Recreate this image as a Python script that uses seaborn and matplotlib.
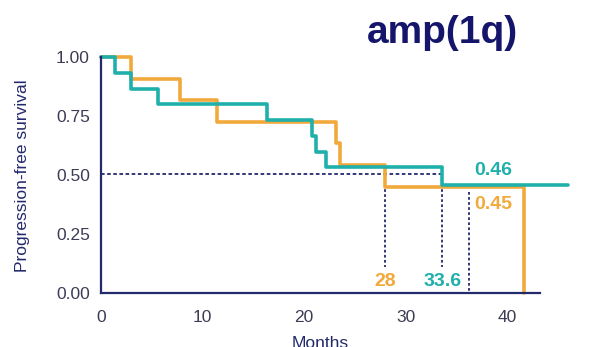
import matplotlib
matplotlib.use("Agg")
import matplotlib.pyplot as plt
import seaborn as sns
import pandas as pd

# Kaplan-Meier step points (month of event, survival after event)
orange_months = [0, 3.0, 7.8, 11.4, 23.1, 23.5, 28.0, 41.7]
orange_surv = [1.0, 0.909, 0.818, 0.727, 0.636, 0.545, 0.45, 0.0]
teal_months = [0, 1.4, 3.0, 5.6, 16.3, 20.8, 21.2, 22.2, 33.6, 46.0]
teal_surv = [1.0, 0.933, 0.867, 0.80, 0.733, 0.667, 0.60, 0.533, 0.46, 0.46]

median_orange = 28
median_teal = 33.6
final_orange = 0.45
final_teal = 0.46

x_ticks = [0, 10, 20, 30, 40]
y_ticks = [0.00, 0.25, 0.50, 0.75, 1.00]

ORANGE = "#f2a93b"
TEAL = "#1fb0ab"
NAVY = "#232a6c"
TICK_TXT = "#3c3c55"
TITLE = "#15156b"

df = pd.concat([
    pd.DataFrame({"month": orange_months, "survival": orange_surv, "group": "A"}),
    pd.DataFrame({"month": teal_months, "survival": teal_surv, "group": "B"}),
], ignore_index=True)

sns.set_theme(style="white")
plt.rcParams["font.family"] = ["Liberation Sans", "DejaVu Sans"]

fig = plt.figure(figsize=(5.89, 3.47), dpi=100)
ax = fig.add_axes([0.1715, 0.1548, 0.793, 0.6801])

# median reference lines
ax.plot([0, median_teal], [0.505, 0.505], color=NAVY, lw=1.3,
        ls=(0, (2.0, 1.4)), zorder=2)
ax.plot([median_orange, median_orange], [0.505, 0.113], color=NAVY, lw=1.3,
        ls=(0, (1.5, 1.3)), zorder=2)
ax.plot([median_teal, median_teal], [0.505, 0.113], color=NAVY, lw=1.3,
        ls=(0, (1.5, 1.3)), zorder=2)
ax.plot([36.2, 36.2], [0.43, 0.0], color=NAVY, lw=1.3,
        ls=(0, (1.5, 1.3)), zorder=2)

sns.lineplot(data=df, x="month", y="survival", hue="group",
             palette={"A": ORANGE, "B": TEAL}, drawstyle="steps-post",
             estimator=None, sort=False, linewidth=2.6, legend=False,
             ax=ax, zorder=3)
for ln in ax.lines:
    ln.set_clip_on(False)

ax.set_xlim(0, 46)
ax.set_ylim(0, 1.0)
ax.set_xticks(x_ticks)
ax.set_yticks(y_ticks)
ax.set_yticklabels([f"{v:.2f}" for v in y_ticks])

for side in ["top", "right"]:
    ax.spines[side].set_visible(False)
ax.spines["left"].set_bounds(0, 1.0)
ax.spines["bottom"].set_bounds(0, 43.2)
for side in ["left", "bottom"]:
    ax.spines[side].set_color(NAVY)
    ax.spines[side].set_linewidth(1.6)
    ax.spines[side].set_zorder(4)

ax.tick_params(axis="both", direction="out", length=4, width=1.4,
               color=NAVY, labelcolor=TICK_TXT, labelsize=12.5, pad=4)
ax.tick_params(axis="x", pad=8)

ax.set_ylabel("Progression-free survival", color=NAVY, fontsize=12.5)
ax.yaxis.set_label_coords(-0.152, 0.5)
ax.set_xlabel("Months", color=NAVY, fontsize=12.5, va="top")
ax.xaxis.set_label_coords(0.469, -0.18)

# annotations
ax.text(median_orange, 0.048, f"{median_orange}", color=ORANGE,
        fontsize=14, fontweight="bold", ha="center", va="center")
ax.text(median_teal, 0.048, f"{median_teal}", color=TEAL,
        fontsize=14, fontweight="bold", ha="center", va="center")
ax.text(38.6, 0.522, f"{final_teal:.2f}", color=TEAL,
        fontsize=14, fontweight="bold", ha="center", va="center")
ax.text(38.6, 0.375, f"{final_orange:.2f}", color=ORANGE,
        fontsize=14, fontweight="bold", ha="center", va="center")

fig.text(0.751, 0.876, "amp(1q)", color=TITLE, fontsize=28,
         fontweight="bold", ha="center", va="baseline")

fig.savefig("out.png", dpi=100)
